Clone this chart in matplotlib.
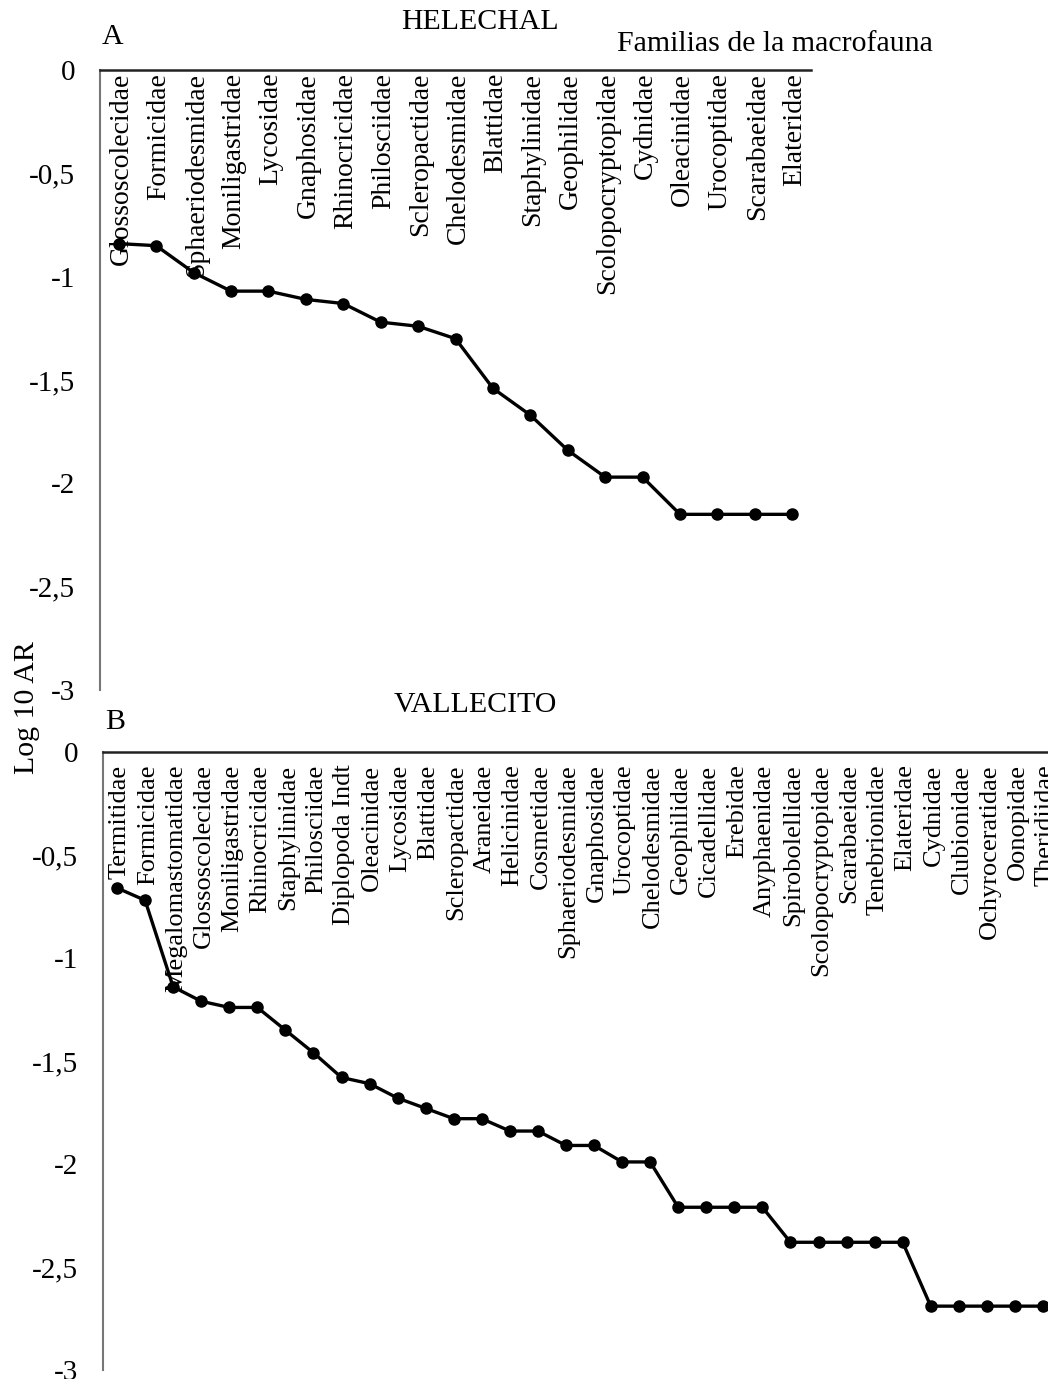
import numpy as np
import matplotlib.pyplot as plt

plt.rcParams['font.family'] = ['Liberation Serif', 'DejaVu Serif']

# HELECHAL
fam_a = ["Glossoscolecidae", "Formicidae", "Sphaeriodesmidae", "Moniligastridae",
         "Lycosidae", "Gnaphosidae", "Rhinocricidae", "Philosciidae", "Scleropactidae",
         "Chelodesmidae", "Blattidae", "Staphylinidae", "Geophilidae",
         "Scolopocryptopidae", "Cydnidae", "Oleacinidae", "Urocoptidae",
         "Scarabaeidae", "Elateridae"]
log_a = [-0.84, -0.85, -0.98, -1.07, -1.07, -1.11, -1.13, -1.22, -1.24, -1.30,
         -1.54, -1.67, -1.84, -1.97, -1.97, -2.15, -2.15, -2.15, -2.15]

# VALLECITO
fam_b = ["Termitidae", "Formicidae", "Megalomastomatidae", "Glossoscolecidae",
         "Moniligastridae", "Rhinocricidae", "Staphylinidae", "Philosciidae",
         "Diplopoda Indt", "Oleacinidae", "Lycosidae", "Blattidae", "Scleropactidae",
         "Araneidae", "Helicinidae", "Cosmetidae", "Sphaeriodesmidae", "Gnaphosidae",
         "Urocoptidae", "Chelodesmidae", "Geophilidae", "Cicadellidae", "Erebidae",
         "Anyphaenidae", "Spirobolellidae", "Scolopocryptopidae", "Scarabaeidae",
         "Tenebrionidae", "Elateridae", "Cydnidae", "Clubionidae", "Ochyroceratidae",
         "Oonopidae", "Theridiidae"]
log_b = [-0.66, -0.72, -1.14, -1.21, -1.24, -1.24, -1.35, -1.46, -1.58, -1.61,
         -1.68, -1.73, -1.78, -1.78, -1.84, -1.84, -1.91, -1.91, -1.99, -1.99,
         -2.21, -2.21, -2.21, -2.21, -2.38, -2.38, -2.38, -2.38, -2.38,
         -2.69, -2.69, -2.69, -2.69, -2.69]

W, H = 1048, 1379
fig = plt.figure(figsize=(W / 100, H / 100), dpi=100)


def px_axes(x0, y0, x1, y1):
    return fig.add_axes([x0 / W, 1 - y1 / H, (x1 - x0) / W, (y1 - y0) / H])


def panel(ax, names, vals, lab_size, lab_off):
    x = np.arange(len(names))
    ax.plot(x, vals, color="black", lw=2.4, marker="o", ms=8, clip_on=False)
    ax.set_xlim(-0.5, len(names) - 0.5)
    ax.set_ylim(-3, 0)
    ax.set_yticks([0, -0.5, -1, -1.5, -2, -2.5, -3])
    ax.set_yticklabels(["0", "-0,5", "-1", "-1,5", "-2", "-2,5", "-3"])
    ax.tick_params(axis="y", length=0, pad=18, labelsize=21)
    ax.set_xticks([])
    for s in ["right", "bottom"]:
        ax.spines[s].set_visible(False)
    ax.spines["top"].set_color("#222222")
    ax.spines["top"].set_linewidth(1.8)
    ax.spines["left"].set_color("#777777")
    ax.spines["left"].set_linewidth(1.5)
    # family names hang under the top axis line
    for i, n in enumerate(names):
        ax.annotate(n, (i, 0), xytext=(2, -lab_off), textcoords="offset points",
                    rotation=90, ha="center", va="top", fontsize=lab_size)


ax1 = px_axes(100, 70, 811, 690)
panel(ax1, fam_a, log_a, 20, 2)
ax2 = px_axes(103, 752, 1057, 1370)
panel(ax2, fam_b, log_b, 19, 9)

fig.text(480 / W, 1 - 22 / H, "HELECHAL", ha="center", va="center", fontsize=21.5)
fig.text(113 / W, 1 - 37 / H, "A", ha="center", va="center", fontsize=21.5)
fig.text(775 / W, 1 - 44 / H, "Familias de la macrofauna", ha="center", va="center", fontsize=21.5)
fig.text(475 / W, 1 - 705 / H, "VALLECITO", ha="center", va="center", fontsize=21.5)
fig.text(115 / W, 1 - 722 / H, "B", ha="center", va="center", fontsize=21.5)
fig.text(27 / W, 1 - 708 / H, "Log 10 AR", ha="center", va="center", rotation=90, fontsize=21.5)

fig.savefig("out.png", dpi=100)
